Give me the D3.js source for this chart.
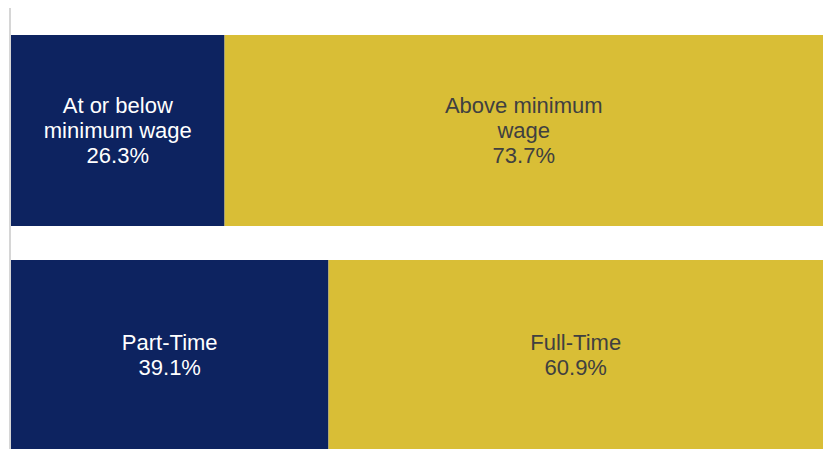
<!DOCTYPE html>
<html>
<head>
<meta charset="utf-8">
<script src="https://cdn.jsdelivr.net/npm/d3@7/dist/d3.min.js"></script>
<style>
html,body{margin:0;padding:0;background:#fff;overflow:hidden;}
svg{display:block;}
</style>
</head>
<body>
<svg id="chart" width="827" height="449"></svg>
<script>
const categories = ["Wage", "Hours"];
const segmentNames = [["At or below minimum wage", "Above minimum wage"], ["Part-Time", "Full-Time"]];
const segmentLabelLines = [[["At or below", "minimum wage"], ["Above minimum", "wage"]], [["Part-Time"], ["Full-Time"]]];
const segmentValues = [[26.3, 73.7], [39.1, 60.9]];
const segmentColors = ["#0d2360", "#d9be36"];
const labelColors = ["#ffffff", "#404040"];

const svg = d3.select("#chart");
const x = d3.scaleLinear().domain([0, 100]).range([11, 823]);
const y = d3.scaleBand().domain(categories).range([35, 451]).paddingInner(34 / 225).paddingOuter(0);

// left axis line
svg.append("line")
  .attr("x1", 10).attr("x2", 10)
  .attr("y1", 8).attr("y2", 449)
  .attr("stroke", "#d6d6d6").attr("stroke-width", 2);

const rows = categories.map((c, i) => {
  let cum = 0;
  return segmentValues[i].map((v, j) => {
    const d = { cat: c, name: segmentNames[i][j], lines: segmentLabelLines[i][j], value: v, x0: cum, x1: cum + v, j };
    cum += v;
    return d;
  });
}).flat();

const g = svg.selectAll("g.seg").data(rows).enter().append("g").attr("class", "seg");

g.append("rect")
  .attr("x", d => x(d.x0))
  .attr("y", d => y(d.cat))
  .attr("width", d => x(d.x1) - x(d.x0))
  .attr("height", y.bandwidth())
  .attr("fill", d => segmentColors[d.j]);

const lh = 25;
g.each(function(d) {
  const lines = d.lines.concat([d3.format(".1f")(d.value) + "%"]);
  const cx = (x(d.x0) + x(d.x1)) / 2;
  const cy = y(d.cat) + y.bandwidth() / 2;
  const first = cy - (lines.length - 1) * lh / 2 + 7;
  const t = d3.select(this).append("text")
    .attr("text-anchor", "middle")
    .attr("font-family", "'Liberation Sans', Arial, sans-serif")
    .attr("font-size", "22px")
    .attr("fill", labelColors[d.j]);
  lines.forEach((ln, k) => {
    t.append("tspan").attr("x", cx).attr("y", first + k * lh).text(ln);
  });
});
</script>
</body>
</html>
